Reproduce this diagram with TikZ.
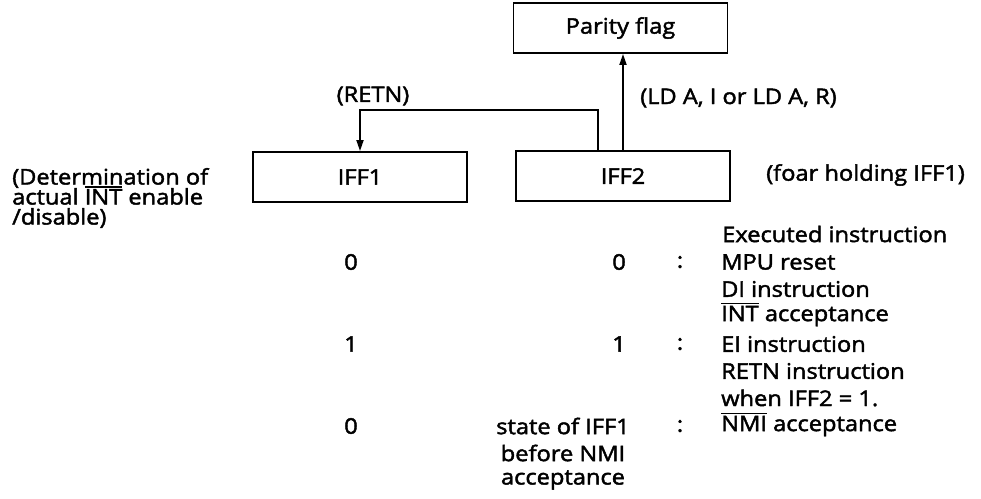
\documentclass[tikz,border=0pt]{standalone}
\usepackage{fontspec}
\setmainfont[FakeStretch=1.1,FakeBold=2]{Open Sans}
\usetikzlibrary{arrows.meta}
\newcommand\ovl[1]{\setbox0\hbox{#1}\rlap{\smash{\raisebox{\dimexpr\ht0+1.6pt\relax}{\rule{\wd0}{1.2pt}}}}\box0{}}
\tikzset{
  boxnode/.style={draw, line width=1.9pt, minimum width=214pt, minimum height=50pt, inner sep=0pt, font=\fontsize{21.5}{22}\selectfont},
  txt/.style={inner sep=0pt, font=\fontsize{21.5}{22}\selectfont},
  conn/.style={line width=1.8pt},
  arr/.style={conn, -{Triangle[length=11pt,width=7pt]}}
}
\begin{document}
\begin{tikzpicture}[x=1pt,y=-1pt]
\useasboundingbox (0,0) rectangle (981,498);
% boxes
\node[boxnode] (parity) at (620.5,28) {Parity flag};
\node[boxnode] (iff1) at (360,177) {IFF1};
\node[boxnode] (iff2) at (623,176) {IFF2};
% connectors
\coordinate (rtop) at (598,110);
\coordinate (ltop) at (360,110);
\draw[arr] (iff2.north -| rtop) -- (rtop) -- (ltop) -- (iff1.north);
\draw[arr] (iff2.north -| 623,0) -- (parity.south -| 623,0);
% labels
\node[txt] (retn) at (373,96) {(RETN)};
\node[txt, anchor=west] (ldlbl) at (640,98) {(LD A, I or LD A, R)};
\node[txt, anchor=west] (foar) at (766,175) {(foar holding IFF1)};
\node[txt, anchor=west, align=left, font=\fontsize{21.5}{20}\selectfont] (det) at (12,198)
  {(Determination of\\actual \ovl{INT} enable\\/disable)};
\node[txt, anchor=west] (exec) at (722,234) {Executed instruction};
% left values
\node[txt] (la) at (351,262) {0};
\node[txt] (lb) at (351,344) {1};
\node[txt] (lc) at (351,426) {0};
% right values
\node[txt, anchor=east] (ra) at (626,262) {0};
\node[txt, anchor=east] (rb) at (626,344) {1};
\node[txt] (rc1) at (563,426) {state of IFF1};
\node[txt] (rc2) at (563,453) {before NMI};
\node[txt] (rc3) at (563,480) {acceptance};
% colons
\node[txt] (ca) at (680,262) {:};
\node[txt] (cb) at (680,344) {:};
\node[txt] (cc) at (680,426) {:};
% instructions
\node[txt, anchor=west] (i1) at (721,262) {MPU reset};
\node[txt, anchor=west] (i2) at (721,289) {DI instruction};
\node[txt, anchor=west] (i3) at (721,316) {\ovl{INT} acceptance};
\node[txt, anchor=west] (i4) at (721,344) {EI instruction};
\node[txt, anchor=west] (i5) at (721,371) {RETN instruction};
\node[txt, anchor=west] (i6) at (721,398) {when IFF2 = 1.};
\node[txt, anchor=west] (i7) at (721,426) {\ovl{NMI} acceptance};
\end{tikzpicture}
\end{document}
